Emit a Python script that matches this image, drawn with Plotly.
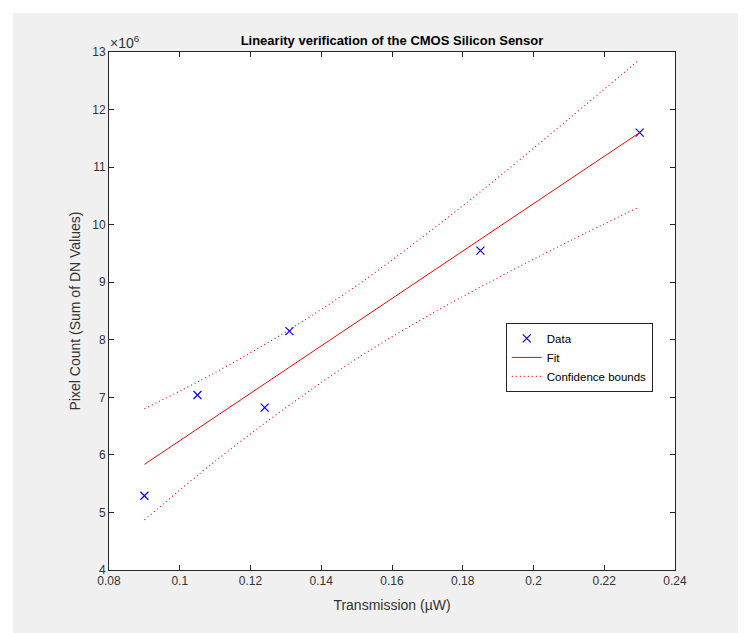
import plotly.graph_objects as go

# Data points
data_x = [0.090, 0.105, 0.124, 0.131, 0.185, 0.230]
data_y = [5.29e6, 7.04e6, 6.82e6, 8.15e6, 9.55e6, 11.60e6]

# Fit line (read at ends)
fit_x = [0.09, 0.23]
fit_y = [5.835e6, 11.60e6]

# Confidence bounds
bound_x = [0.09, 0.11, 0.13, 0.15, 0.17, 0.19, 0.21, 0.23]
upper_y = [6.80e6, 7.43e6, 8.14e6, 8.94e6, 9.85e6, 10.82e6, 11.84e6, 12.87e6]
lower_y = [4.87e6, 5.89e6, 6.82e6, 7.67e6, 8.41e6, 9.08e6, 9.71e6, 10.31e6]

# Tick labels
x_tickvals = [0.08, 0.10, 0.12, 0.14, 0.16, 0.18, 0.20, 0.22, 0.24]
x_ticktext = ["0.08", "0.1", "0.12", "0.14", "0.16", "0.18", "0.2", "0.22", "0.24"]
y_tickvals = [4e6, 5e6, 6e6, 7e6, 8e6, 9e6, 10e6, 11e6, 12e6, 13e6]
y_ticktext = ["4", "5", "6", "7", "8", "9", "10", "11", "12", "13"]

FONT = "Liberation Sans, Arial, Helvetica, sans-serif"
AX = "#262626"

W, H = 746, 633
ML, MR, MT, MB = 101, 79, 44, 71
PW, PH = W - ML - MR, H - MT - MB

fig = go.Figure()
fig.add_trace(go.Scatter(
    x=data_x, y=data_y, mode="markers", name="Data",
    marker=dict(symbol="x-thin", size=8, color="#0000ff",
                line=dict(color="#0000ff", width=1.2)),
))
fig.add_trace(go.Scatter(
    x=fit_x, y=fit_y, mode="lines", name="Fit",
    line=dict(color="#ff0000", width=1),
))
fig.add_trace(go.Scatter(
    x=bound_x, y=upper_y, mode="lines", name="Confidence bounds",
    line=dict(color="#ff0000", width=1.1, dash="1px,3px", shape="spline"),
    legendgroup="cb",
))
fig.add_trace(go.Scatter(
    x=bound_x, y=lower_y, mode="lines", name="Confidence bounds",
    line=dict(color="#ff0000", width=1.1, dash="1px,3px", shape="spline"),
    legendgroup="cb", showlegend=False,
))

axis_common = dict(
    showgrid=False, zeroline=False, showline=True, linecolor=AX, linewidth=1,
    mirror="ticks", ticks="inside", ticklen=5, tickcolor=AX, tickwidth=1,
    tickfont=dict(family=FONT, size=12, color="#333333"),
)

fig.update_layout(
    width=W, height=H,
    paper_bgcolor="#f0f0f0", plot_bgcolor="#ffffff",
    margin=dict(l=ML, r=MR, t=MT, b=MB),
    font=dict(family=FONT, color="#262626"),
    title=dict(text="<b>Linearity verification of the CMOS Silicon Sensor</b>",
               x=0.5147, xanchor="center", y=1 - 32 / H, yanchor="middle",
               font=dict(family=FONT, size=13, color="#000000")),
    xaxis=dict(range=[0.08, 0.24], tickvals=x_tickvals, ticktext=x_ticktext,
               title=dict(text="Transmission (µW)", standoff=12,
                          font=dict(family=FONT, size=14, color="#333333")),
               **axis_common),
    yaxis=dict(range=[4e6, 13e6], tickvals=y_tickvals, ticktext=y_ticktext,
               title=dict(text="Pixel Count (Sum of DN Values)", standoff=8,
                          font=dict(family=FONT, size=14, color="#333333")),
               **axis_common),
    legend=dict(x=0.701, y=0.477, xanchor="left", yanchor="top",
                bgcolor="#ffffff", bordercolor=AX, borderwidth=1,
                font=dict(family=FONT, size=11.5, color="#000000"),
                tracegroupgap=0, itemwidth=30),
    showlegend=True,
)

# white strips to mimic the screenshot's outer border
fig.add_shape(type="rect", xref="paper", yref="paper", layer="above",
              x0=-ML / PW, x1=(5 - ML) / PW, y0=-MB / PH, y1=(H - MB) / PH,
              fillcolor="#ffffff", line=dict(width=0))
fig.add_shape(type="rect", xref="paper", yref="paper", layer="above",
              x0=-ML / PW, x1=(W - ML) / PW, y0=(H - MB - 5) / PH, y1=(H - MB) / PH,
              fillcolor="#ffffff", line=dict(width=0))

fig.add_annotation(
    text="×10<sup>6</sup>", xref="paper", yref="paper", x=0, y=1,
    xanchor="left", yanchor="bottom", showarrow=False, yshift=-1, xshift=-1,
    font=dict(family=FONT, size=14, color="#333333"),
)

fig.write_html("out.html")
